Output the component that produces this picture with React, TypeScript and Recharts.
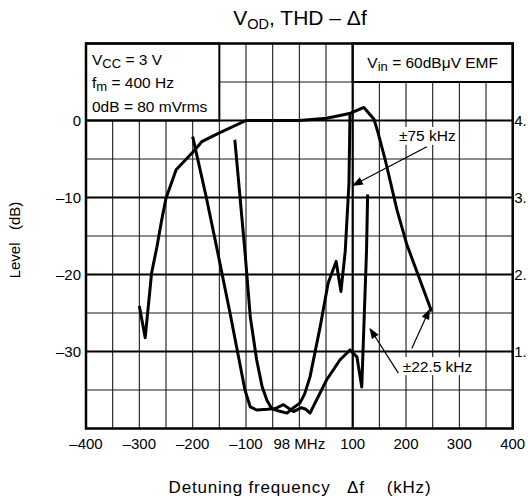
import React from 'react';
import { LineChart, Line, XAxis, YAxis, CartesianGrid, ReferenceLine, ReferenceArea, ReferenceDot } from 'recharts';

const FONT = '"Liberation Sans", Arial, Helvetica, sans-serif';

// V_OD curve (wide)
const vodFreq = [-300, -289, -277, -267, -258, -250, -231, -199, -183, -150, -100, -50, 0, 51, 94, 121, 140, 148, 161, 183, 201, 248];
const vodLevel = [-24.1, -28.2, -19.8, -16.4, -12.9, -10.1, -6.4, -4.05, -2.75, -1.6, 0, 0, 0, 0.3, 0.9, 1.7, 0.15, -1.7, -5.1, -11.6, -16, -24.8];

// THD curve, ±22.5 kHz deviation
const thd225Freq = [-200, -175, -154, -130, -102, -92, -80, -60, -45, -30, -11, 4, 12, 20, 30, 51, 76, 95, 108, 117, 126, 128];
const thd225Level = [-2.1, -9.8, -16.8, -25, -35, -37.2, -37.6, -37.5, -37.4, -36.9, -37.8, -37.3, -37.5, -38.0, -36.6, -33.7, -31.1, -29.8, -30.7, -34.6, -16.8, -9.6];

// THD curve, ±75 kHz deviation
const thd75Freq = [-121, -102, -92, -80, -70, -61, -52, -40, -23, -11, -5, 1, 10, 20, 39, 54, 69, 78, 86, 93, 95];
const thd75Level = [-2.5, -17, -25.5, -31.1, -34.5, -36.3, -37.4, -37.7, -38.0, -37.3, -37.0, -36.7, -35.5, -33.3, -26.8, -21.1, -18.3, -22.2, -17, -8.2, 1.1];

const xTicks = [-400, -350, -300, -250, -200, -150, -100, -50, 0, 50, 100, 150, 200, 250, 300, 350, 400];
const xLabelled = [-400, -300, -200, -100, 0, 100, 200, 300, 400];
const yTicks = [10, 5, 0, -5, -10, -15, -20, -25, -30, -35, -40];
const yLabelled = [0, -10, -20, -30];
const thdTicks = [1, 2, 3, 4];
const majorY = [0, -10, -20, -30];
const majorX = [100];

const zip = (xs: number[], ys: number[]) => xs.map((f, i) => ({ f, v: ys[i] }));
const vodData = zip(vodFreq, vodLevel);
const thd225Data = zip(thd225Freq, thd225Level);
const thd75Data = zip(thd75Freq, thd75Level);

const dash = (n: number) => (n < 0 ? '\u2013' + Math.abs(n) : String(n));
const fmtX = (v: number) => (xLabelled.includes(v) ? (v === 0 ? '98 MHz' : dash(v)) : '');
const fmtY = (v: number) => (yLabelled.includes(v) ? dash(v) : '');

const Arrow = (props: any) => {
  const { x1, y1, x2, y2 } = props;
  const dx = x2 - x1;
  const dy = y2 - y1;
  const len = Math.hypot(dx, dy) || 1;
  const ux = dx / len;
  const uy = dy / len;
  const L = 11;
  const W = 4;
  const bx = x2 - ux * L;
  const by = y2 - uy * L;
  const pts = `${x2},${y2} ${bx - uy * W},${by + ux * W} ${bx + uy * W},${by - ux * W}`;
  return (
    <g>
      <line x1={x1} y1={y1} x2={bx + ux * 2} y2={by + uy * 2} stroke="#000" strokeWidth={1.2} />
      <polygon points={pts} fill="#000" />
    </g>
  );
};

const LeftBox = (props: any) => {
  const { x, y, width, height } = props;
  return (
    <g>
      <rect x={x} y={y} width={width} height={height} fill="#fff" stroke="#000" strokeWidth={2} />
      <text x={x + 6} y={y + 21.5} fontSize={15.5} fontFamily={FONT} fill="#000">
        V<tspan fontSize={13} dy={2.5}>CC</tspan><tspan dy={-2.5}> = 3 V</tspan>
      </text>
      <text x={x + 6} y={y + 44} fontSize={15.5} fontFamily={FONT} fill="#000">
        f<tspan fontSize={13} dy={3}>m</tspan><tspan dy={-3}> = 400 Hz</tspan>
      </text>
      <text x={x + 6} y={y + 68} fontSize={15.5} fontFamily={FONT} fill="#000">0dB = 80 mVrms</text>
    </g>
  );
};

const RightBox = (props: any) => {
  const { x, y, width, height } = props;
  return (
    <g>
      <rect x={x} y={y} width={width} height={height} fill="#fff" stroke="#000" strokeWidth={2} />
      <text x={x + width / 2} y={y + 24.5} fontSize={15.5} fontFamily={FONT} fill="#000" textAnchor="middle">
        V<tspan fontSize={13} dy={3}>in</tspan><tspan dy={-3}> = 60dB{'\u03BC'}V EMF</tspan>
      </text>
    </g>
  );
};

const makeTag = (label: string, w: number) => (props: any) => {
  const { cx, cy } = props;
  return (
    <g>
      <rect x={cx - w / 2} y={cy - 9} width={w} height={18} fill="#fff" />
      <text x={cx} y={cy + 5.5} fontSize={15.5} fontFamily={FONT} fill="#000" textAnchor="middle">{label}</text>
    </g>
  );
};

export default function App() {
  return (
    <div style={{ position: 'relative', width: 528, height: 499, fontFamily: FONT, overflow: 'hidden' }}>
      <style>{'html,body{margin:0;padding:0;overflow:hidden;}'}</style>
      <div style={{ position: 'absolute', left: 8, top: 8 }}>
        <LineChart width={520} height={491} margin={{ top: 35.5, right: 0, bottom: 0, left: 0 }}>
          <CartesianGrid stroke="#1a1a1a" strokeWidth={1.1} />
          <XAxis
            dataKey="f"
            type="number"
            domain={[-400, 400]}
            ticks={xTicks}
            interval={0}
            tickFormatter={fmtX}
            axisLine={false}
            tickLine={false}
            tickSize={0}
            tickMargin={10}
            height={70.5}
            tick={{ fill: '#000', fontSize: 15, fontFamily: FONT }}
            allowDataOverflow
          />
          <YAxis
            type="number"
            domain={[-40, 10]}
            ticks={yTicks}
            interval={0}
            tickFormatter={fmtY}
            axisLine={false}
            tickLine={false}
            tickSize={0}
            tickMargin={5}
            width={78}
            tick={{ fill: '#000', fontSize: 15, fontFamily: FONT }}
            allowDataOverflow
          />
          <YAxis
            yAxisId="thd"
            orientation="right"
            type="number"
            domain={[0, 5]}
            ticks={thdTicks}
            interval={0}
            tickFormatter={(v: number) => `${v}.`}
            axisLine={false}
            tickLine={false}
            tickSize={0}
            tickMargin={1.5}
            width={15.3}
            tick={{ fill: '#000', fontSize: 15, fontFamily: FONT }}
            allowDataOverflow
          />
          {majorY.map((v) => (
            <ReferenceLine key={'my' + v} y={v} stroke="#000" strokeWidth={1.9} />
          ))}
          {majorX.map((v) => (
            <ReferenceLine key={'mx' + v} x={v} stroke="#000" strokeWidth={2.2} />
          ))}
          <ReferenceArea x1={-400} x2={-150} y1={0} y2={10} shape={LeftBox} ifOverflow="visible" />
          <ReferenceArea x1={100} x2={400} y1={5} y2={10} shape={RightBox} ifOverflow="visible" />
          <Line data={vodData} dataKey="v" stroke="#000" strokeWidth={3} dot={false} isAnimationActive={false} strokeLinejoin="round" />
          <Line data={thd225Data} dataKey="v" stroke="#000" strokeWidth={3} dot={false} isAnimationActive={false} strokeLinejoin="round" />
          <Line data={thd75Data} dataKey="v" stroke="#000" strokeWidth={3} dot={false} isAnimationActive={false} strokeLinejoin="round" />
          <ReferenceDot x={240} y={-2} r={1} shape={makeTag('\u00B175 kHz', 60)} ifOverflow="visible" />
          <ReferenceDot x={259} y={-31.9} r={1} shape={makeTag('\u00B122.5 kHz', 74)} ifOverflow="visible" />
          <ReferenceLine segment={[{ x: 239, y: -3.4 }, { x: 98.5, y: -8.5 }]} shape={Arrow} ifOverflow="visible" />
          <ReferenceLine segment={[{ x: 185.6, y: -32.8 }, { x: 131.3, y: -26.9 }]} shape={Arrow} ifOverflow="visible" />
          <ReferenceLine segment={[{ x: 210.8, y: -29.6 }, { x: 245, y: -24.4 }]} shape={Arrow} ifOverflow="visible" />
          <ReferenceArea x1={-400} x2={400} y1={-40} y2={10} fill="none" fillOpacity={0} stroke="#000" strokeWidth={2.5} ifOverflow="visible" />
        </LineChart>
      </div>
      <svg width={528} height={499} style={{ position: 'absolute', left: 0, top: 0, pointerEvents: 'none' }}>
        <text x={300} y={25.3} fontSize={21} fontFamily={FONT} fill="#000" textAnchor="middle">
          V<tspan fontSize={14.5} dy={4}>OD</tspan><tspan dy={-4}>, THD {'\u2013'} {'\u0394'}f</tspan>
        </text>
        <text x={19.5} y={240} fontSize={15} fontFamily={FONT} fill="#000" textAnchor="middle" transform="rotate(-90, 19.5, 240)">
          {'Level\u00A0\u00A0\u00A0(dB)'}
        </text>
        <text x={300} y={492.5} fontSize={17} letterSpacing={0.8} fontFamily={FONT} fill="#000" textAnchor="middle">
          {'Detuning frequency\u00A0\u00A0\u00A0\u0394f\u00A0\u00A0\u00A0\u00A0(kHz)'}
        </text>
      </svg>
    </div>
  );
}
